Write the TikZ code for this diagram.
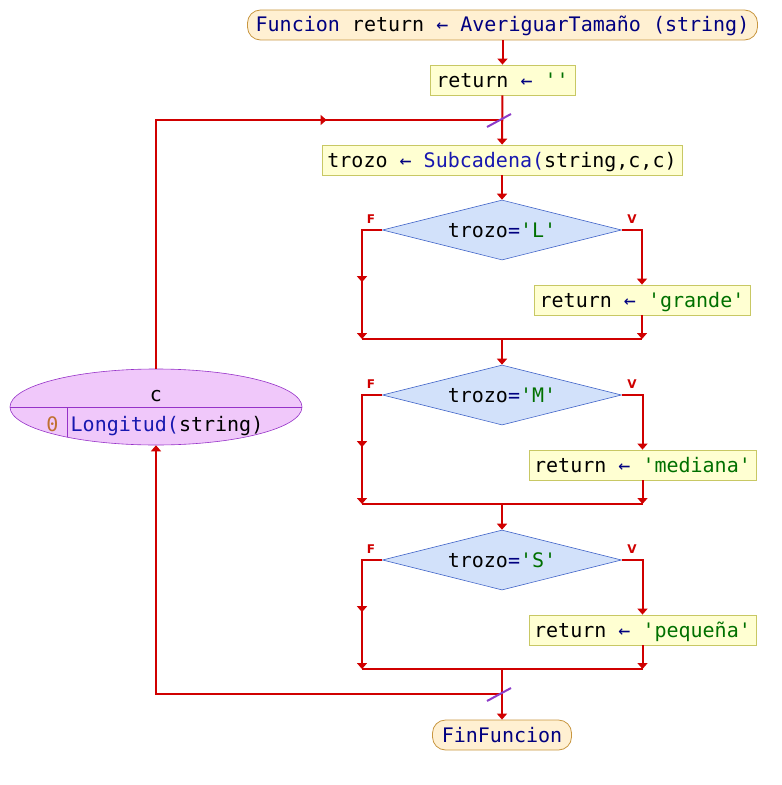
\documentclass[tikz,border=0pt]{standalone}
\usepackage{fontspec}
\setmonofont{DejaVu Sans Mono}
\newfontfamily\lblfont{DejaVu Sans}
\usetikzlibrary{shapes.geometric,arrows.meta,decorations.markings}
\definecolor{kwc}{HTML}{000080}
\definecolor{fnc}{HTML}{1818B0}
\definecolor{strc}{HTML}{007000}
\definecolor{numc}{HTML}{C07030}
\definecolor{flow}{HTML}{D00000}
\definecolor{pfill}{HTML}{FFFFD2}
\definecolor{pdraw}{HTML}{C8C864}
\definecolor{tfill}{HTML}{FFF0D2}
\definecolor{tdraw}{HTML}{C89640}
\definecolor{dfill}{HTML}{D2E1FA}
\definecolor{ddraw}{HTML}{4164C8}
\definecolor{efill}{HTML}{F0C8FA}
\definecolor{edraw}{HTML}{9632C8}
\definecolor{slashc}{HTML}{8C3CC8}
\newcommand{\kwd}[1]{\textcolor{kwc}{#1}}
\newcommand{\fnm}[1]{\textcolor{fnc}{#1}}
\newcommand{\strg}[1]{\textcolor{strc}{#1}}
\newcommand{\qt}{\char39\relax}
\begin{document}
\begin{tikzpicture}[x=1bp,y=-1bp,
  every node/.style={font=\ttfamily\fontsize{20bp}{24bp}\selectfont, inner sep=0pt, text height=16bp, text depth=2bp},
  termbox/.style={draw=tdraw, fill=tfill, rounded corners=13bp, minimum height=30bp, line width=0.8bp},
  procbox/.style={draw=pdraw, fill=pfill, minimum height=30bp, line width=0.8bp},
  decis/.style={diamond, draw=ddraw, fill=dfill, minimum width=239bp, minimum height=60bp, shape aspect=4, line width=0.6bp},
  flowline/.style={draw=flow, color=flow, line width=2bp},
  arr/.style={flowline, -{Triangle[width=10bp,length=6bp]}},
  brlabel/.style={text=flow, font=\lblfont\bfseries\fontsize{12bp}{14bp}\selectfont, text height=9bp, text depth=0bp},
  midarrow/.style={decoration={markings, mark=at position #1 with {\arrow{Triangle[width=10bp,length=6bp]}}}, postaction=decorate},
  slash/.style={draw=slashc, line width=2bp}
]
\useasboundingbox (0,0) rectangle (782,785);

% nodes
\node[termbox, minimum width=510bp] (start) at (502.5,25) {\kwd{Funcion} return \kwd{← AveriguarTamaño (string)}};
\node[procbox, minimum width=145bp] (r0) at (502.5,80) {return \kwd{←} \strg{\qt\qt}};
\node[procbox, minimum width=360bp] (trozo) at (502,160) {trozo \kwd{←} \fnm{Subcadena(}string,c,c)};
\node[decis] (d1) at (502,230) {trozo\kwd{=}\strg{\qt L\qt}};
\node[procbox, minimum width=216bp] (b1) at (642,300) {return \kwd{←} \strg{\qt grande\qt}};
\node[decis] (d2) at (502,395) {trozo\kwd{=}\strg{\qt M\qt}};
\node[procbox, minimum width=227bp] (b2) at (642.5,465) {return \kwd{←} \strg{\qt mediana\qt}};
\node[decis] (d3) at (502,560) {trozo\kwd{=}\strg{\qt S\qt}};
\node[procbox, minimum width=227bp] (b3) at (642.5,630) {return \kwd{←} \strg{\qt pequeña\qt}};
\node[termbox, minimum width=139bp] (fin) at (502,735) {\kwd{FinFuncion}};

% branch labels
\node[brlabel] (f1) at (371,219) {F};
\node[brlabel] (v1) at (632,219) {V};
\node[brlabel] (f2) at (371,384) {F};
\node[brlabel] (v2) at (632,384) {V};
\node[brlabel] (f3) at (371,549) {F};
\node[brlabel] (v3) at (632,549) {V};

% loop ellipse
\node[ellipse, draw=edraw, fill=efill, minimum width=292bp, minimum height=76bp, line width=0.6bp] (loop) at (156,407) {};
\begin{scope}
  \clip (156,407) ellipse [x radius=146, y radius=38];
  \draw[edraw, line width=0.8bp] (0,407) -- (320,407);
  \draw[edraw, line width=0.8bp] (67,407) -- (67,460);
\end{scope}
\node (cvar) at (156,394) {c};
\node[text=numc] (cinit) at (52.5,424) {0};
\node (cend) at (167,424) {\fnm{Longitud(}string)};

% coordinates
\coordinate (top) at (502,120);
\coordinate (bot) at (502,694);
\coordinate (j1) at (502,339);
\coordinate (j1l) at (362,339);
\coordinate (j2) at (502,504);
\coordinate (j2l) at (362,504);
\coordinate (j3) at (502,669);
\coordinate (j3l) at (362,669);

% connectors
\draw[arr] (start) -- (r0);
\draw[arr] (r0) -- (trozo);
\draw[flowline, midarrow=0.705] (loop.north) |- (top);
\draw[arr] (trozo) -- (d1);

\draw[arr, midarrow=0.56] (d1.west) -| (j1l);
\draw[arr] (d1.east) -| (b1.north);
\draw[arr] (b1.south) -- (b1.south |- j1);
\draw[flowline] (j1l) -- (b1.south |- j1);
\draw[arr] (j1) -- (d2.north);

\draw[arr, midarrow=0.56] (d2.west) -| (j2l);
\draw[arr] (d2.east) -| (b2.north);
\draw[arr] (b2.south) -- (b2.south |- j2);
\draw[flowline] (j2l) -- (b2.south |- j2);
\draw[arr] (j2) -- (d3.north);

\draw[arr, midarrow=0.56] (d3.west) -| (j3l);
\draw[arr] (d3.east) -| (b3.north);
\draw[arr] (b3.south) -- (b3.south |- j3);
\draw[flowline] (j3l) -- (b3.south |- j3);
\draw[arr] (j3) -- (fin);

\draw[arr] (bot) -| (loop.south);

% loop marks
\draw[slash] (487,127) -- (511,114);
\draw[slash] (487,701) -- (511,688);
\end{tikzpicture}
\end{document}
